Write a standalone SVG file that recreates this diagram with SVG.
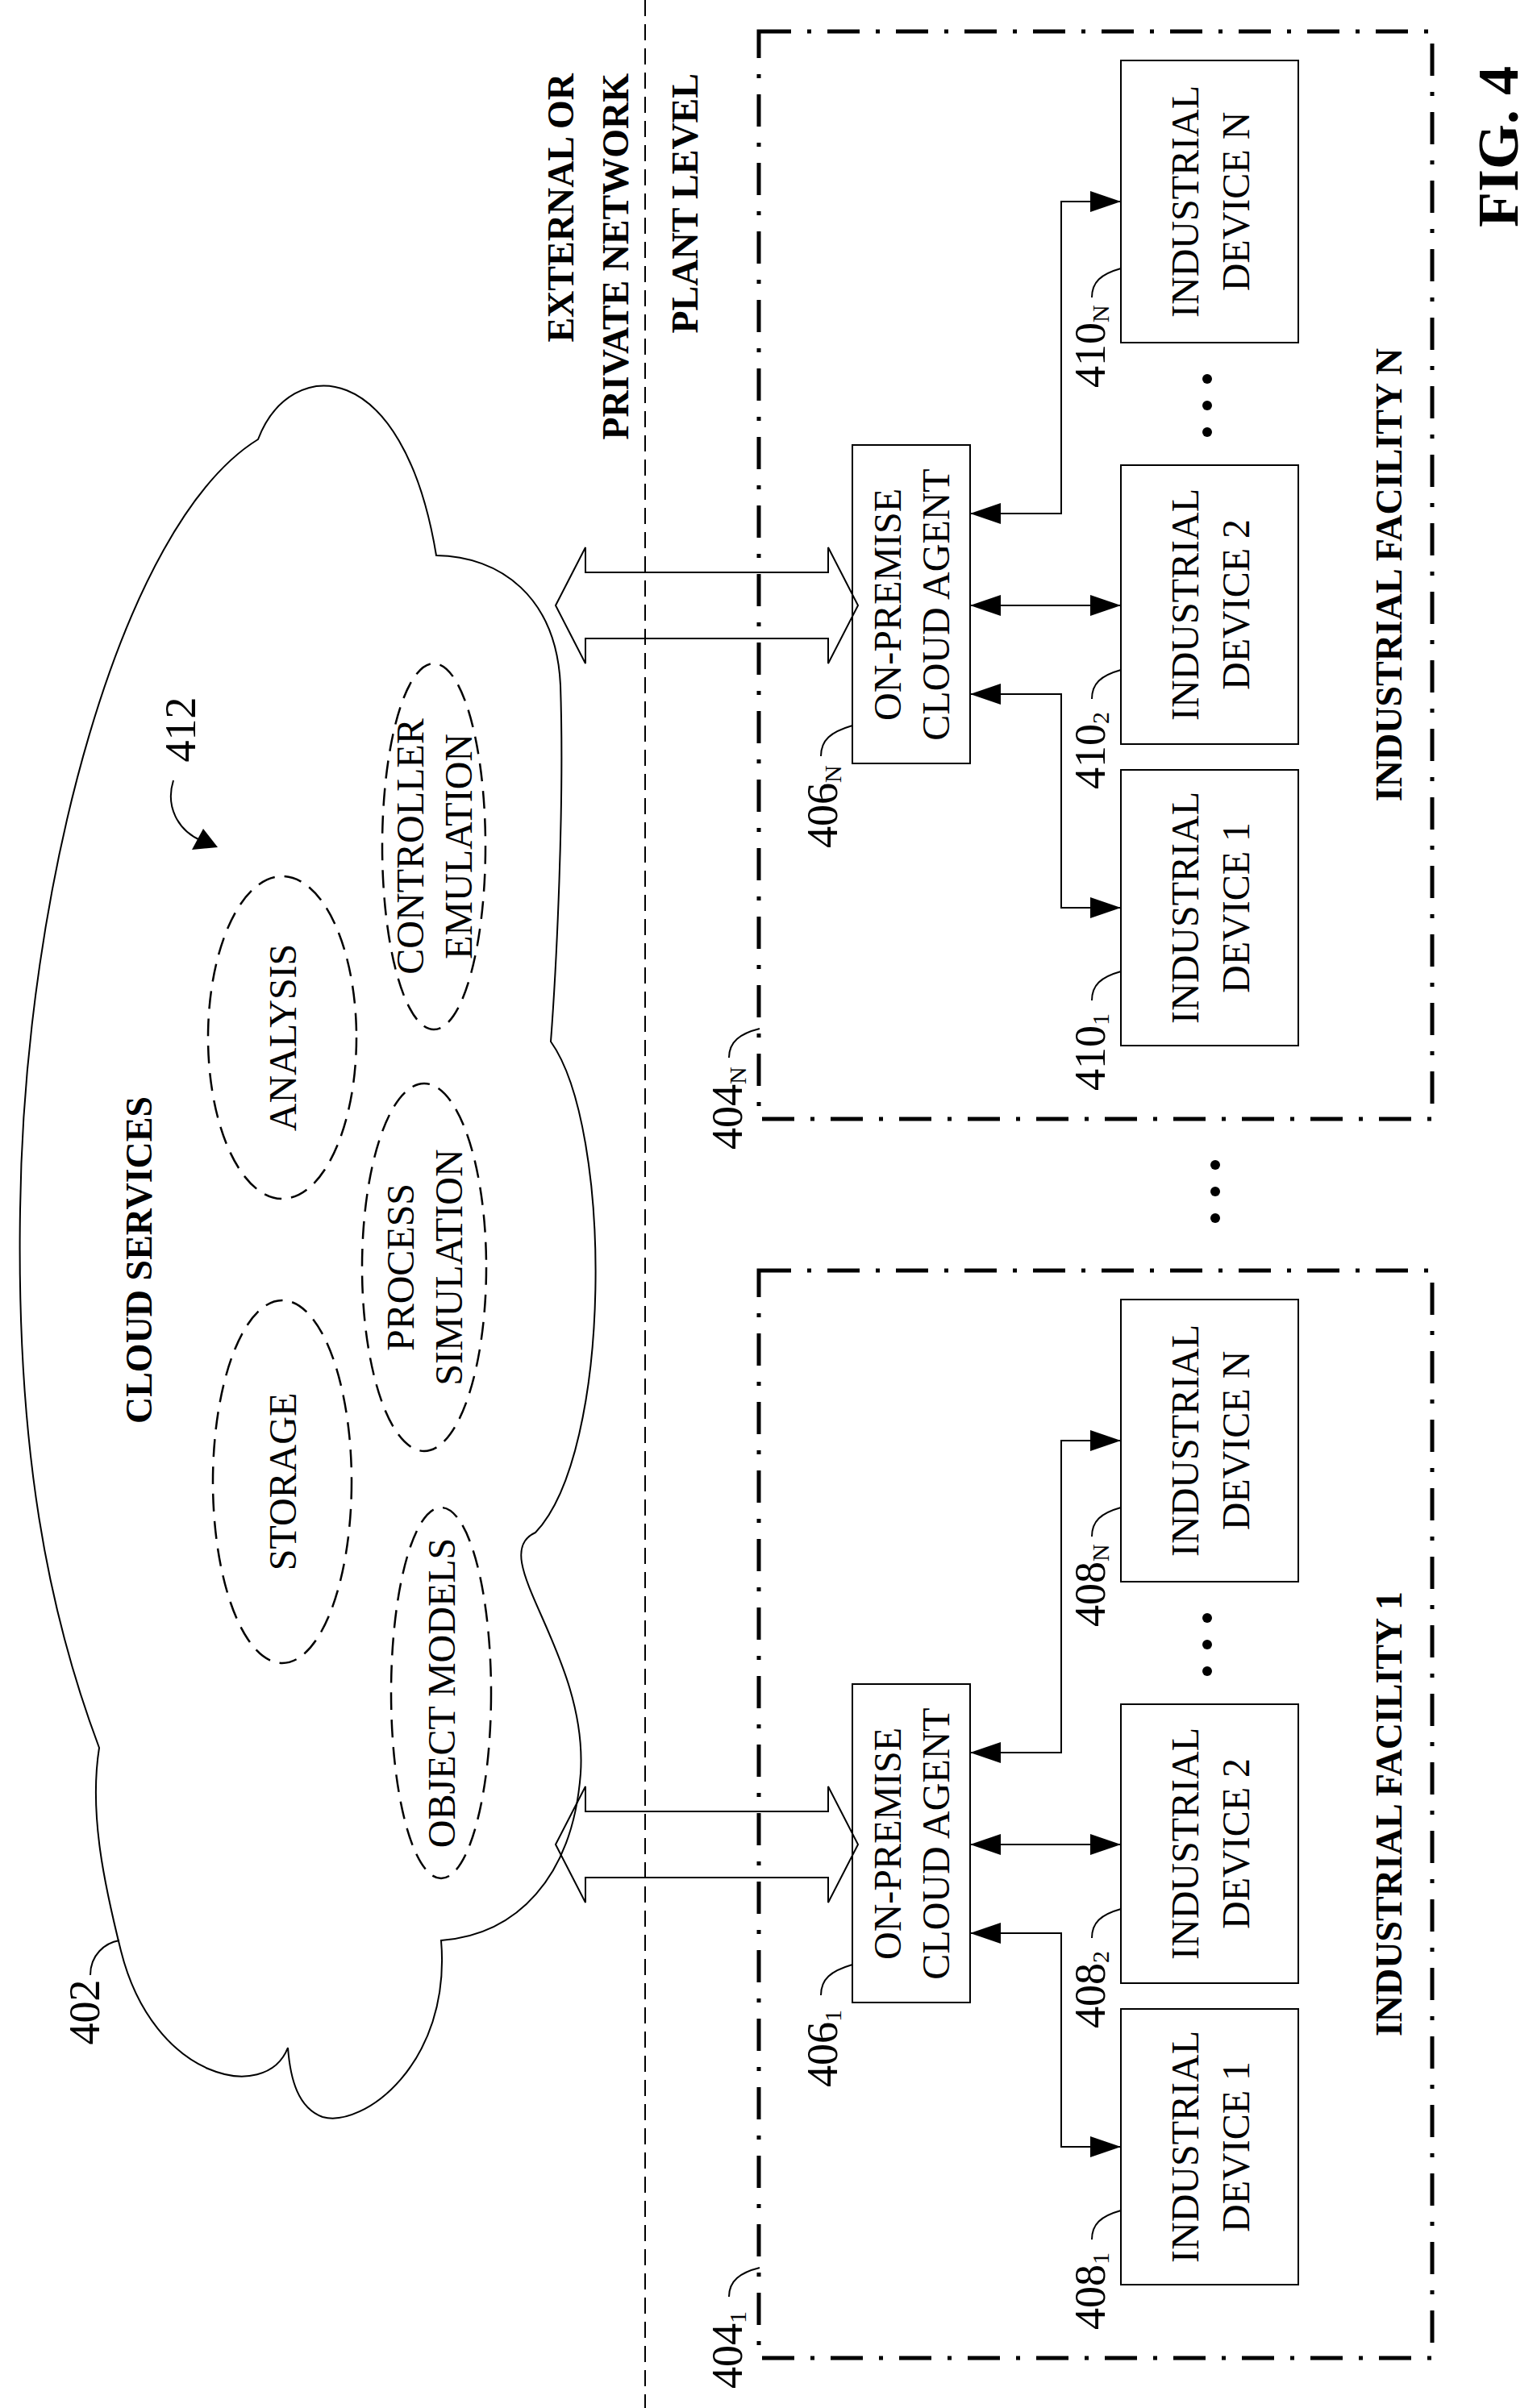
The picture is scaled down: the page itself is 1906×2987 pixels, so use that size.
<svg xmlns="http://www.w3.org/2000/svg" width="1906" height="2987" viewBox="0 0 1906 2987">
<defs>
<style>
text{font-family:"Liberation Serif","Times New Roman",serif;fill:#000}
.t{font-size:48px}
.b{font-size:46px;font-weight:bold}
.lbl{font-size:54px}
.box{fill:#fff;stroke:#000;stroke-width:2}
.fac{fill:none;stroke:#000;stroke-width:5;stroke-dasharray:40 20 5 20}
.ell{fill:none;stroke:#000;stroke-width:2.5;stroke-dasharray:22 12}
.ln{fill:none;stroke:#000;stroke-width:2}
.con{fill:none;stroke:#000;stroke-width:2;marker-start:url(#ah);marker-end:url(#ah)}
.big{fill:none;stroke:#000;stroke-width:2}
.dot{fill:#000}
</style>
<marker id="ah" viewBox="0 0 38 26" refX="38" refY="13" markerWidth="38" markerHeight="26" markerUnits="userSpaceOnUse" orient="auto-start-reverse">
<path d="M0,0 L38,13 L0,26 Z" fill="#000"/>
</marker>
</defs>
<rect width="1906" height="2987" fill="#fff"/>

<g id="cloud">
<path class="ln" d="M320,545 C360,440 500,440 541,689 C620,690 690,740 695,850 C700,1000 690,1200 683,1292 C760,1400 760,1800 664,1901 C600,1930 730,2050 720,2200 C710,2330 640,2400 547,2407 C560,2560 450,2640 400,2626 C370,2615 360,2580 357,2540 C330,2610 190,2580 150,2420 C130,2340 110,2250 123,2168 C60,2000 20,1800 25,1500 C30,1100 150,650 320,545 Z"/>
<text class="b" transform="translate(172,1563) rotate(-90)" text-anchor="middle" dominant-baseline="central">CLOUD SERVICES</text>
<text class="lbl" transform="translate(105,2496) rotate(-90)" text-anchor="middle" dominant-baseline="central">402</text>
<path class="ln" d="M112,2450 C112,2425 130,2410 148,2407"/>
<text class="lbl" transform="translate(224,905) rotate(-90)" text-anchor="middle" dominant-baseline="central">412</text>
<path class="ln" d="M215,968 C205,1000 220,1030 250,1043"/>
<path d="M270,1051 L238,1054 L252,1028 Z" fill="#000"/>
</g>

<g id="services">
<ellipse class="ell" cx="538" cy="1050" rx="64" ry="227"/>
<text class="t" transform="translate(508,1050) rotate(-90)" text-anchor="middle" dominant-baseline="central">CONTROLLER</text>
<text class="t" transform="translate(568,1050) rotate(-90)" text-anchor="middle" dominant-baseline="central">EMULATION</text>
<ellipse class="ell" cx="350" cy="1287" rx="92" ry="200"/>
<text class="t" transform="translate(350,1287) rotate(-90)" text-anchor="middle" dominant-baseline="central">ANALYSIS</text>
<ellipse class="ell" cx="526" cy="1572" rx="77" ry="228"/>
<text class="t" transform="translate(496,1572) rotate(-90)" text-anchor="middle" dominant-baseline="central">PROCESS</text>
<text class="t" transform="translate(556,1572) rotate(-90)" text-anchor="middle" dominant-baseline="central">SIMULATION</text>
<ellipse class="ell" cx="350" cy="1838" rx="86" ry="225"/>
<text class="t" transform="translate(350,1838) rotate(-90)" text-anchor="middle" dominant-baseline="central">STORAGE</text>
<ellipse class="ell" cx="547" cy="2100" rx="62" ry="230"/>
<text class="t" transform="translate(547,2100) rotate(-90)" text-anchor="middle" dominant-baseline="central">OBJECT MODELS</text>
</g>

<g id="boundary">
<line x1="800" y1="0" x2="800" y2="2987" stroke="#000" stroke-width="2" stroke-dasharray="20 10"/>
<text class="b" transform="translate(695,91) rotate(-90)" text-anchor="end" dominant-baseline="central">EXTERNAL OR</text>
<text class="b" transform="translate(763,91) rotate(-90)" text-anchor="end" dominant-baseline="central">PRIVATE NETWORK</text>
<text class="b" transform="translate(849,91) rotate(-90)" text-anchor="end" dominant-baseline="central">PLANT LEVEL</text>
</g>

<g id="facilityN">
<rect class="fac" x="941" y="39" width="835" height="1349"/>
<text class="b" transform="translate(1722,713) rotate(-90)" text-anchor="middle" dominant-baseline="central">INDUSTRIAL FACILITY N</text>
<text class="lbl" transform="translate(902,1426) rotate(-90)" dominant-baseline="central">404<tspan font-size="30" dy="12">N</tspan></text>
<path class="ln" d="M904,1312 C904,1292 918,1282 942,1276"/>
</g>
<g id="agentN">
<rect class="box" x="1057" y="552" width="146" height="395"/>
<text class="t" transform="translate(1100,750) rotate(-90)" text-anchor="middle" dominant-baseline="central">ON-PREMISE</text>
<text class="t" transform="translate(1160,750) rotate(-90)" text-anchor="middle" dominant-baseline="central">CLOUD AGENT</text>
<text class="lbl" transform="translate(1020,1052) rotate(-90)" dominant-baseline="central">406<tspan font-size="30" dy="12">N</tspan></text>
<path class="ln" d="M1018,938 C1018,918 1030,908 1057,900"/>
</g>
<g id="devN1">
<rect class="box" x="1390" y="955" width="220" height="342"/>
<text class="t" transform="translate(1469,1126) rotate(-90)" text-anchor="middle" dominant-baseline="central">INDUSTRIAL</text>
<text class="t" transform="translate(1532,1126) rotate(-90)" text-anchor="middle" dominant-baseline="central">DEVICE 1</text>
<text class="lbl" transform="translate(1352,1353) rotate(-90)" dominant-baseline="central">410<tspan font-size="30" dy="12">1</tspan></text>
<path class="ln" d="M1354,1241 C1354,1222 1365,1212 1390,1205"/>
</g>
<g id="devN2">
<rect class="box" x="1390" y="577" width="220" height="346"/>
<text class="t" transform="translate(1469,750) rotate(-90)" text-anchor="middle" dominant-baseline="central">INDUSTRIAL</text>
<text class="t" transform="translate(1532,750) rotate(-90)" text-anchor="middle" dominant-baseline="central">DEVICE 2</text>
<text class="lbl" transform="translate(1352,979) rotate(-90)" dominant-baseline="central">410<tspan font-size="30" dy="12">2</tspan></text>
<path class="ln" d="M1354,867 C1354,848 1365,838 1390,831"/>
</g>
<g id="devNN">
<rect class="box" x="1390" y="75" width="220" height="350"/>
<text class="t" transform="translate(1469,250) rotate(-90)" text-anchor="middle" dominant-baseline="central">INDUSTRIAL</text>
<text class="t" transform="translate(1532,250) rotate(-90)" text-anchor="middle" dominant-baseline="central">DEVICE N</text>
<text class="lbl" transform="translate(1352,481) rotate(-90)" dominant-baseline="central">410<tspan font-size="30" dy="12">N</tspan></text>
<path class="ln" d="M1354,369 C1354,350 1365,340 1390,333"/>
</g>

<g id="facility1">
<rect class="fac" x="941" y="1576" width="835" height="1349"/>
<text class="b" transform="translate(1722,2250) rotate(-90)" text-anchor="middle" dominant-baseline="central">INDUSTRIAL FACILITY 1</text>
<text class="lbl" transform="translate(902,2963) rotate(-90)" dominant-baseline="central">404<tspan font-size="30" dy="12">1</tspan></text>
<path class="ln" d="M904,2849 C904,2829 918,2819 942,2813"/>
</g>
<g id="agent1">
<rect class="box" x="1057" y="2089" width="146" height="395"/>
<text class="t" transform="translate(1100,2287) rotate(-90)" text-anchor="middle" dominant-baseline="central">ON-PREMISE</text>
<text class="t" transform="translate(1160,2287) rotate(-90)" text-anchor="middle" dominant-baseline="central">CLOUD AGENT</text>
<text class="lbl" transform="translate(1020,2589) rotate(-90)" dominant-baseline="central">406<tspan font-size="30" dy="12">1</tspan></text>
<path class="ln" d="M1018,2475 C1018,2455 1030,2445 1057,2437"/>
</g>
<g id="dev11">
<rect class="box" x="1390" y="2492" width="220" height="342"/>
<text class="t" transform="translate(1469,2663) rotate(-90)" text-anchor="middle" dominant-baseline="central">INDUSTRIAL</text>
<text class="t" transform="translate(1532,2663) rotate(-90)" text-anchor="middle" dominant-baseline="central">DEVICE 1</text>
<text class="lbl" transform="translate(1352,2890) rotate(-90)" dominant-baseline="central">408<tspan font-size="30" dy="12">1</tspan></text>
<path class="ln" d="M1354,2778 C1354,2759 1365,2749 1390,2742"/>
</g>
<g id="dev12">
<rect class="box" x="1390" y="2114" width="220" height="346"/>
<text class="t" transform="translate(1469,2287) rotate(-90)" text-anchor="middle" dominant-baseline="central">INDUSTRIAL</text>
<text class="t" transform="translate(1532,2287) rotate(-90)" text-anchor="middle" dominant-baseline="central">DEVICE 2</text>
<text class="lbl" transform="translate(1352,2516) rotate(-90)" dominant-baseline="central">408<tspan font-size="30" dy="12">2</tspan></text>
<path class="ln" d="M1354,2404 C1354,2385 1365,2375 1390,2368"/>
</g>
<g id="dev1N">
<rect class="box" x="1390" y="1612" width="220" height="350"/>
<text class="t" transform="translate(1469,1787) rotate(-90)" text-anchor="middle" dominant-baseline="central">INDUSTRIAL</text>
<text class="t" transform="translate(1532,1787) rotate(-90)" text-anchor="middle" dominant-baseline="central">DEVICE N</text>
<text class="lbl" transform="translate(1352,2018) rotate(-90)" dominant-baseline="central">408<tspan font-size="30" dy="12">N</tspan></text>
<path class="ln" d="M1354,1906 C1354,1887 1365,1877 1390,1870"/>
</g>

<g id="connectors">
<polygon class="big" points="689,751 726,679 726,710 1027,710 1027,679 1064,751 1027,823 1027,792 726,792 726,823"/>
<polygon class="big" points="689,2288 726,2216 726,2247 1027,2247 1027,2216 1064,2288 1027,2360 1027,2329 726,2329 726,2360"/>
<path class="con" d="M1203,637 L1316,637 L1316,250 L1390,250"/>
<path class="con" d="M1203,751 L1390,751"/>
<path class="con" d="M1203,861 L1316,861 L1316,1126 L1390,1126"/>
<path class="con" d="M1203,2174 L1316,2174 L1316,1787 L1390,1787"/>
<path class="con" d="M1203,2288 L1390,2288"/>
<path class="con" d="M1203,2398 L1316,2398 L1316,2663 L1390,2663"/>
</g>

<g id="ellipsis">
<circle class="dot" cx="1497" cy="470" r="6"/>
<circle class="dot" cx="1497" cy="503" r="6"/>
<circle class="dot" cx="1497" cy="536" r="6"/>
<circle class="dot" cx="1497" cy="2007" r="6"/>
<circle class="dot" cx="1497" cy="2040" r="6"/>
<circle class="dot" cx="1497" cy="2073" r="6"/>
<circle class="dot" cx="1507" cy="1445" r="6"/>
<circle class="dot" cx="1507" cy="1478" r="6"/>
<circle class="dot" cx="1507" cy="1511" r="6"/>
</g>

<g id="title">
<text transform="translate(1858,182) rotate(-90)" text-anchor="middle" dominant-baseline="central" font-size="72" font-weight="bold">FIG. 4</text>
</g>
</svg>
